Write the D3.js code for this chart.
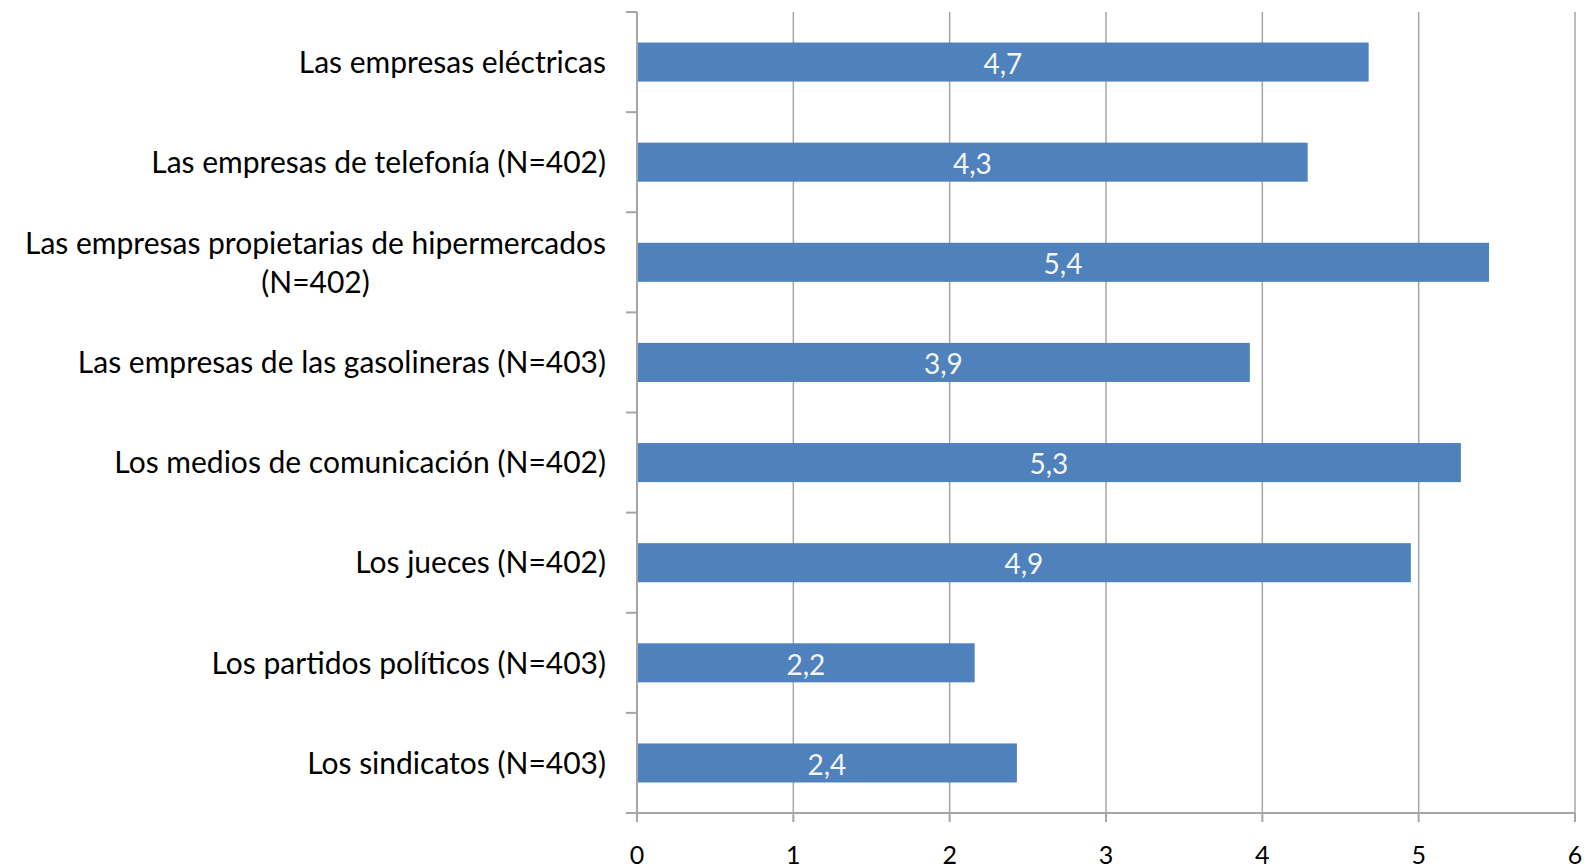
<!DOCTYPE html>
<html>
<head>
<meta charset="utf-8">
<script src="https://cdn.jsdelivr.net/npm/d3@7"></script>
<style>
  body { margin: 0; background: #fff; }
  text { font-family: Lato, "Open Sans", sans-serif; }
</style>
</head>
<body>
<div id="chart"></div>
<script>
// data
var categories = [
  "Las empresas eléctricas",
  "Las empresas de telefonía (N=402)",
  "Las empresas propietarias de hipermercados (N=402)",
  "Las empresas de las gasolineras (N=403)",
  "Los medios de comunicación (N=402)",
  "Los jueces (N=402)",
  "Los partidos políticos (N=403)",
  "Los sindicatos (N=403)"
];
var values = [4.68, 4.29, 5.45, 3.92, 5.27, 4.95, 2.16, 2.43];
var valueLabels = ["4,7", "4,3", "5,4", "3,9", "5,3", "4,9", "2,2", "2,4"];
var xTicks = [0, 1, 2, 3, 4, 5, 6];

var W = 1596, H = 868;
var margin = {top: 12, right: 21, bottom: 55, left: 637};

var svg = d3.select("#chart").append("svg")
  .attr("width", W)
  .attr("height", H);

var x = d3.scaleLinear()
  .domain([0, 6])
  .range([margin.left, W - margin.right]);

var y = d3.scaleBand()
  .domain(categories)
  .range([margin.top, H - margin.bottom])
  .paddingInner(0.61)
  .paddingOuter(0.305);

var gridColor = "#a6a6a6";
var y0 = margin.top, y1 = H - margin.bottom;
var labelSize = 30;

// vertical grid lines
svg.selectAll(".grid")
  .data(xTicks.slice(1))
  .enter()
  .append("line")
    .attr("x1", function(d){ return x(d) })
    .attr("x2", function(d){ return x(d) })
    .attr("y1", y0)
    .attr("y2", y1)
    .attr("stroke", gridColor)
    .attr("stroke-width", 1.5);

// bars
svg.selectAll(".bar")
  .data(categories)
  .enter()
  .append("rect")
    .attr("x", x(0))
    .attr("y", function(d){ return y(d) })
    .attr("width", function(d, i){ return x(values[i]) - x(0) })
    .attr("height", y.bandwidth())
    .attr("fill", "#4f81bd");

// value labels
svg.selectAll(".vlab")
  .data(categories)
  .enter()
  .append("text")
    .attr("x", function(d, i){ return (x(0) + x(values[i])) / 2 })
    .attr("y", function(d){ return y(d) + y.bandwidth() / 2 })
    .attr("dy", "0.42em")
    .attr("text-anchor", "middle")
    .attr("fill", "#f4f4f4")
    .attr("font-size", 28)
    .text(function(d, i){ return valueLabels[i] });

// left axis line with category boundary ticks
svg.append("line")
  .attr("x1", x(0)).attr("x2", x(0))
  .attr("y1", y0).attr("y2", y1)
  .attr("stroke", gridColor).attr("stroke-width", 2);

var bounds = d3.range(categories.length + 1).map(function(i){ return y0 + i * y.step() });
svg.selectAll(".ytick")
  .data(bounds)
  .enter()
  .append("line")
    .attr("x1", x(0) - 11)
    .attr("x2", x(0))
    .attr("y1", function(d){ return d })
    .attr("y2", function(d){ return d })
    .attr("stroke", gridColor)
    .attr("stroke-width", 2);

// bottom axis
svg.append("line")
  .attr("x1", x(0) - 11).attr("x2", x(6))
  .attr("y1", y1).attr("y2", y1)
  .attr("stroke", gridColor).attr("stroke-width", 2);

svg.selectAll(".xtick")
  .data(xTicks)
  .enter()
  .append("line")
    .attr("x1", function(d){ return x(d) })
    .attr("x2", function(d){ return x(d) })
    .attr("y1", y1)
    .attr("y2", y1 + 9)
    .attr("stroke", gridColor)
    .attr("stroke-width", 2);

svg.selectAll(".xlab")
  .data(xTicks)
  .enter()
  .append("text")
    .attr("x", function(d){ return x(d) })
    .attr("y", y1 + 42)
    .attr("dy", "0.36em")
    .attr("text-anchor", "middle")
    .attr("font-size", 25)
    .attr("fill", "#000")
    .text(function(d){ return d });

// category labels, wrapped when too long
var labelRight = x(0) - 31;
var maxW = labelRight - 8;
var lineH = 39;

categories.forEach(function(c){
  var g = svg.append("g");
  var words = c.split(" ");
  var lines = [];
  var cur = [];
  var probe = g.append("text").attr("font-size", labelSize);
  words.forEach(function(w){
    var test = cur.concat([w]).join(" ");
    probe.text(test);
    if (probe.node().getComputedTextLength() > maxW && cur.length) {
      lines.push(cur.join(" "));
      cur = [w];
    } else {
      cur.push(w);
    }
  });
  lines.push(cur.join(" "));
  probe.remove();

  var cy = y(c) + y.bandwidth() / 2;
  var t = g.append("text")
    .attr("font-size", labelSize)
    .attr("fill", "#000");
  if (lines.length === 1) {
    t.attr("x", labelRight).attr("y", cy).attr("dy", "0.36em")
      .attr("text-anchor", "end").text(lines[0]);
  } else {
    // center the block of lines against the right edge
    var widths = lines.map(function(l){
      var p = g.append("text").attr("font-size", labelSize).text(l);
      var w = p.node().getComputedTextLength();
      p.remove();
      return w;
    });
    var cx = labelRight - d3.max(widths) / 2;
    lines.forEach(function(l, i){
      t.append("tspan")
        .attr("x", cx)
        .attr("y", cy + (i - (lines.length - 1) / 2) * lineH)
        .attr("dy", "0.36em")
        .attr("text-anchor", "middle")
        .text(l);
    });
  }
});
</script>
</body>
</html>
